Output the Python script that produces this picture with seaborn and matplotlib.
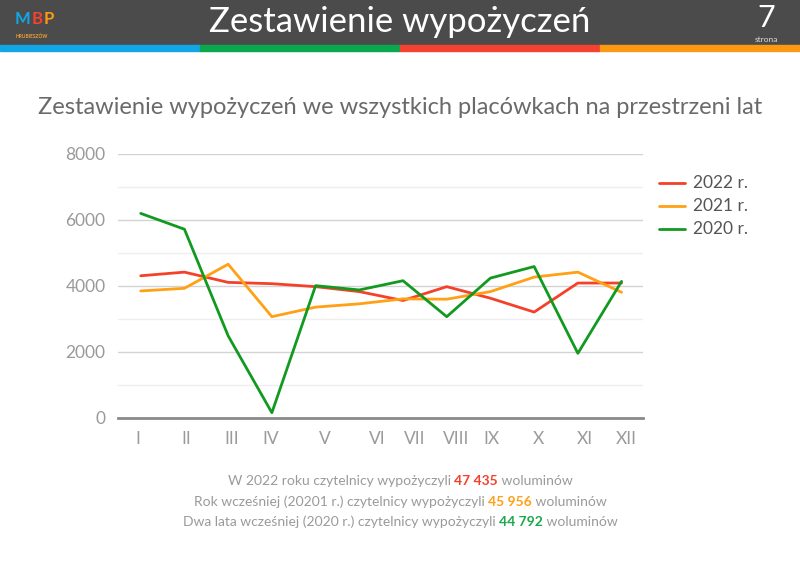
import matplotlib
matplotlib.use("Agg")
import matplotlib.pyplot as plt
from matplotlib.patches import Rectangle
from matplotlib.ticker import MultipleLocator
import seaborn as sns
import pandas as pd

# --- data ---
months = ["I", "II", "III", "IV", "V", "VI", "VII", "VIII", "IX", "X", "XI", "XII"]
# tick labels in the original are not exactly under the points
tick_pos = [-0.06, 1.05, 2.09, 2.98, 4.21, 5.40, 6.27, 7.21, 8.03, 9.09, 10.16, 11.11]
series_names = ["2022 r.", "2021 r.", "2020 r."]
v2022 = [4310, 4420, 4110, 4070, 3980, 3830, 3560, 3980, 3630, 3210, 4090, 4090]
v2021 = [3850, 3930, 4660, 3070, 3360, 3460, 3610, 3600, 3830, 4270, 4420, 3810]
v2020 = [6200, 5720, 2490, 160, 4010, 3880, 4160, 3070, 4240, 4590, 1960, 4140]
totals = ["47 435", "45 956", "44 792"]
colors = ["#f5402a", "#ffa015", "#129a20"]

rows = []
for name, vals in zip(series_names, [v2022, v2021, v2020]):
    for i, v in enumerate(vals):
        rows.append({"idx": i, "value": v, "year": name})
df = pd.DataFrame(rows)

sns.set_theme(style="white")
plt.rcParams["font.family"] = ["Lato", "DejaVu Sans"]

fig = plt.figure(figsize=(8, 5.66), dpi=100)
W, H = 800, 566
renderer = fig.canvas.get_renderer()

# header bar + coloured stripe
fig.patches.append(Rectangle((0, 1 - 45 / H), 1, 45 / H, transform=fig.transFigure,
                             color="#4b4b4b", zorder=0))
for k, c in enumerate(["#12a6e4", "#0aa84e", "#f5412f", "#fb9a12"]):
    fig.patches.append(Rectangle((k * 0.25, 1 - 51 / H), 0.25, 6 / H, transform=fig.transFigure,
                                 color=c, zorder=0))

fig.text(0.5, 1 - 22 / H, "Zestawienie wypożyczeń", ha="center", va="center",
         color="white", fontsize=25)
fig.text(766 / W, 1 - 18 / H, "7", ha="center", va="center", color="white", fontsize=22)
fig.text(766 / W, 1 - 39 / H, "strona", ha="center", va="center", color="#dddddd", fontsize=6)

# logo
logo = [("M", "#12a6e4"), ("B", "#f5412f"), ("P", "#fb9a12")]
lx = 15
for ch, c in logo:
    t = fig.text(lx / W, 1 - 19 / H, ch, ha="left", va="center", color=c, fontsize=12,
                 fontweight="bold")
    lx += t.get_window_extent(renderer).width + 1
fig.text(16 / W, 1 - 36 / H, "HRUBIESZÓW", ha="left", va="center", color="#f5a030",
         fontsize=3.5, fontweight="bold")

fig.text(0.5, 1 - 108 / H, "Zestawienie wypożyczeń we wszystkich placówkach na przestrzeni lat",
         ha="center", va="center", color="#6a6a6a", fontsize=17)

ax = fig.add_axes([118 / W, 1 - 418 / H, (643 - 118) / W, (418 - 154) / H])
sns.lineplot(data=df, x="idx", y="value", hue="year", palette=colors, linewidth=2,
             ax=ax, legend=False, zorder=3)
ax.set_xlim(-0.52, 11.49)
ax.set_ylim(0, 8000)
ax.yaxis.set_major_locator(MultipleLocator(2000))
ax.yaxis.set_minor_locator(MultipleLocator(1000))
ax.grid(which="major", axis="y", color="#d3d3d3", linewidth=1)
ax.grid(which="minor", axis="y", color="#efefef", linewidth=1)
ax.set_xticks(tick_pos)
ax.set_xticklabels(months)
ax.tick_params(axis="both", which="both", length=0, labelsize=12.5, labelcolor="#9a9a9a")
ax.tick_params(axis="y", pad=9)
ax.tick_params(axis="x", pad=9)
ax.set_xlabel("")
ax.set_ylabel("")
for s in ["top", "right", "left"]:
    ax.spines[s].set_visible(False)
ax.spines["bottom"].set_color("#8a8a8a")
ax.spines["bottom"].set_linewidth(2)

# legend
for k, (name, c) in enumerate(zip(series_names, colors)):
    y = 1 - (183 + k * 23) / H
    fig.add_artist(plt.Line2D([659 / W, 685 / W], [y, y], color=c, linewidth=2,
                              transform=fig.transFigure))
    fig.text(693 / W, y, name, ha="left", va="center", color="#555555", fontsize=12.5)

# footer with coloured numbers
lines = [
    ("W 2022 roku czytelnicy wypożyczyli ", totals[0], " woluminów", colors[0]),
    ("Rok wcześniej (20201 r.) czytelnicy wypożyczyli ", totals[1], " woluminów", colors[1]),
    ("Dwa lata wcześniej (2020 r.) czytelnicy wypożyczyli ", totals[2], " woluminów", "#19a84a"),
]
for k, (a, num, b, c) in enumerate(lines):
    y = 1 - (481 + k * 20.5) / H
    parts = [(a, "#9a9a9a", "normal"), (num, c, "bold"), (b, "#9a9a9a", "normal")]
    texts = []
    for txt, col, wt in parts:
        t = fig.text(0, y, txt, ha="left", va="center", color=col, fontsize=10, fontweight=wt)
        texts.append(t)
    widths = [t.get_window_extent(renderer).width for t in texts]
    x = (W - sum(widths)) / 2
    for t, w in zip(texts, widths):
        t.set_x(x / W)
        x += w

fig.savefig("out.png", dpi=100)
